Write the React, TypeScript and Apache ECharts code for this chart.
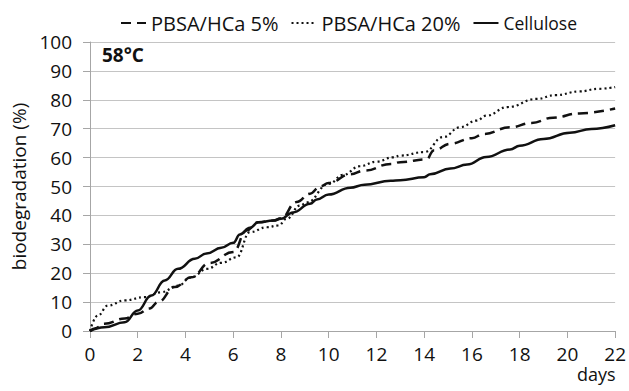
import React, { useEffect, useRef } from "react";
import * as echarts from "echarts";

const seriesNames = ["PBSA/HCa 5%", "PBSA/HCa 20%", "Cellulose"];

const daysPbsa5 = [0, 0.2, 0.6, 1.45, 2.0, 2.5, 2.85, 3.55, 4.25, 5.0, 6.0, 6.56, 7.05, 7.7, 8.0, 8.65, 9.22, 9.64, 10.0, 10.9, 11.5, 12.6, 13.0, 14.1, 14.4, 15.1, 16.0, 16.5, 17.6, 18.5, 19.4, 20.5, 22];
const valsPbsa5 = [0, 0.9, 2.5, 4.3, 6.0, 7.8, 10.0, 15.2, 18.6, 23.5, 27.3, 34.8, 37.6, 38.2, 39.0, 44.6, 47.5, 50.0, 51.2, 54.2, 55.5, 57.8, 58.4, 59.4, 62.5, 64.8, 66.7, 68.2, 70.5, 72.0, 73.8, 75.3, 77.0];

const daysPbsa20 = [0, 0.33, 0.75, 1.45, 2.29, 2.97, 3.69, 4.25, 4.9, 5.5, 6.14, 6.7, 7.4, 7.89, 8.24, 8.8, 9.08, 10.0, 10.6, 11.3, 12.0, 12.7, 13.0, 14.0, 14.8, 15.5, 16.2, 16.6, 17.5, 18.7, 19.5, 20.5, 21.3, 22];
const valsPbsa20 = [0, 5.4, 8.8, 10.6, 11.7, 13.4, 15.7, 18.6, 21.5, 23.6, 25.5, 34.2, 35.9, 36.5, 38.8, 43.4, 44.5, 50.9, 54.0, 57.0, 58.6, 60.1, 60.7, 61.9, 67.1, 70.5, 72.8, 74.5, 77.5, 80.3, 81.6, 82.9, 83.8, 84.4];

const daysCellulose = [0, 0.6, 1.45, 2.0, 2.57, 3.13, 3.69, 4.39, 4.88, 5.5, 6.0, 6.28, 6.7, 7.05, 7.68, 8.0, 8.5, 9.22, 9.5, 10.0, 10.9, 11.5, 12.6, 13.0, 14.0, 14.25, 15.1, 15.8, 16.6, 17.6, 18.0, 19.0, 20.1, 21.0, 22];
const valsCellulose = [0, 1.3, 3.0, 7.1, 12.3, 17.5, 21.5, 25.0, 26.8, 28.8, 30.5, 33.4, 35.7, 37.6, 38.2, 38.8, 41.0, 44.0, 45.5, 47.2, 49.6, 50.6, 52.0, 52.2, 53.2, 54.2, 56.2, 57.6, 60.2, 62.8, 64.1, 66.4, 68.6, 69.9, 71.2];

const xTicks = [0, 2, 4, 6, 8, 10, 12, 14, 16, 18, 20, 22];
const yTicks = [0, 10, 20, 30, 40, 50, 60, 70, 80, 90, 100];

const FONT = "'Open Sans', 'Noto Sans', sans-serif";

function pairs(xs: number[], ys: number[]) {
  return xs.map((x, i) => [x, ys[i]]);
}

export default function App() {
  const ref = useRef<HTMLDivElement>(null);
  useEffect(() => {
    if (!ref.current) return;
    const chart = echarts.init(ref.current, null, { renderer: "svg" });
    const common = {
      type: "line",
      showSymbol: false,
      symbol: "none",
      smooth: 0.45,
      smoothMonotone: "x",
    };
    chart.setOption({
      animation: false,
      backgroundColor: "#fff",
      grid: { left: 90, right: 12, top: 42, bottom: 60, containLabel: false },
      legend: {
        top: 8,
        left: 115,
        itemWidth: 25,
        itemHeight: 14,
        itemGap: 12,
        itemStyle: { opacity: 0 },
        textStyle: { fontFamily: FONT, fontSize: 20, color: "#111" },
        data: [
          { name: seriesNames[0] },
          { name: seriesNames[1] },
          { name: seriesNames[2], textStyle: { fontSize: 17.5 } },
        ],
      },
      xAxis: {
        type: "value",
        min: xTicks[0],
        max: xTicks[xTicks.length - 1],
        interval: 2,
        axisLine: { show: true, lineStyle: { color: "#a6a6a6", width: 1 } },
        axisTick: { show: true, inside: false, length: 7, lineStyle: { color: "#a6a6a6" } },
        axisLabel: { fontFamily: FONT, fontSize: 19, color: "#111", margin: 13 },
        splitLine: { show: false },
      },
      yAxis: {
        type: "value",
        min: yTicks[0],
        max: yTicks[yTicks.length - 1],
        interval: 10,
        name: "biodegradation (%)",
        nameLocation: "middle",
        nameGap: 60,
        nameTextStyle: { fontFamily: FONT, fontSize: 19, color: "#111" },
        axisLine: { show: true, lineStyle: { color: "#a6a6a6", width: 1 } },
        axisTick: { show: true, inside: false, length: 7, lineStyle: { color: "#a6a6a6" } },
        axisLabel: { fontFamily: FONT, fontSize: 19, color: "#111", margin: 18 },
        splitLine: { show: true, lineStyle: { color: "#c4c4c4", width: 1 } },
      },
      graphic: [
        {
          type: "text",
          left: 102,
          top: 45,
          style: { text: "58°C", fontFamily: FONT, fontSize: 19, fontWeight: "bold", fill: "#111" },
        },
        {
          type: "text",
          left: 577,
          top: 365,
          style: { text: "days", fontFamily: FONT, fontSize: 18, fill: "#111" },
        },
      ],
      series: [
        {
          ...common,
          name: seriesNames[0],
          data: pairs(daysPbsa5, valsPbsa5),
          lineStyle: { color: "#111", width: 2.5, type: [10, 6] },
          itemStyle: { color: "#111" },
        },
        {
          ...common,
          name: seriesNames[1],
          data: pairs(daysPbsa20, valsPbsa20),
          lineStyle: { color: "#111", width: 2.2, type: [2, 3] },
          itemStyle: { color: "#111" },
        },
        {
          ...common,
          name: seriesNames[2],
          data: pairs(daysCellulose, valsCellulose),
          lineStyle: { color: "#111", width: 2.5, type: "solid" },
          itemStyle: { color: "#111" },
        },
      ],
    });
    return () => chart.dispose();
  }, []);
  return <div ref={ref} style={{ width: 629, height: 391, position: "absolute", left: 0, top: 0 }} />;
}
